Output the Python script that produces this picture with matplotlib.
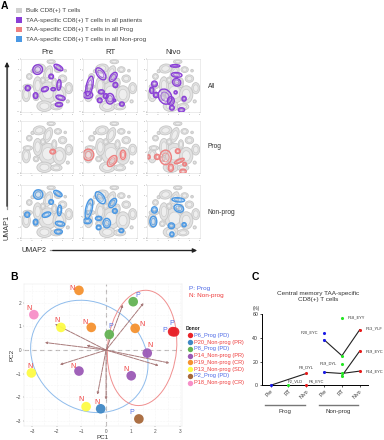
import numpy as np
import matplotlib
matplotlib.use("Agg")
import matplotlib.pyplot as plt
from matplotlib.patches import Ellipse, Rectangle

plt.rcParams['font.family'] = ['Liberation Sans', 'DejaVu Sans']

W, H = 384, 440

# panel A: clusters in umap coordinates (0-100), x, y, w, h, angle
bulk = [(35, 82, 24, 17, 10), (58, 95, 16, 8, 0), (16, 67, 11, 11, 0), (52, 73, 15, 30, -20),
        (71, 80, 14, 11, 0), (80, 63, 16, 14, 0), (92, 45, 15, 21, 0), (52, 37, 36, 40, 0),
        (32, 50, 17, 33, 0), (74, 33, 25, 33, 0), (10, 33, 16, 27, 0), (29, 27, 11, 11, 0),
        (45, 11, 29, 20, 0), (68, 10, 22, 12, 0), (90, 20, 6, 6, 0), (22, 77, 6, 6, 0),
        (64, 55, 10, 18, 0), (13, 48, 18, 9, 0), (85, 78, 5, 5, 0), (42, 60, 10, 12, 0)]

all_pre = [(32, 80, 19, 18, 30), (72, 84, 19, 9, -30), (58, 67, 9, 9, 0), (13, 45, 10, 10, 0),
           (28, 31, 9, 11, 0), (46, 43, 14, 9, 20), (62, 43, 9, 6, 0), (73, 51, 8, 20, -5),
           (76, 27, 18, 9, -15), (73, 14, 14, 8, 0)]
all_rt = [(33, 72, 14, 26, 35), (56, 66, 11, 20, -35), (60, 51, 9, 10, 0), (12, 49, 12, 38, -12),
          (9, 32, 18, 13, 0), (31, 22, 9, 9, 0), (42, 30, 9, 9, 0), (50, 25, 15, 20, 0),
          (72, 15, 9, 8, 0), (58, 22, 5, 5, 0), (34, 38, 11, 8, 0)]
all_nivo = [(14, 53, 11, 11, 0), (17, 32, 10, 10, 0), (9, 41, 8, 12, 0), (34, 29, 24, 30, 30),
            (45, 21, 13, 16, 0), (47, 8, 9, 9, 0), (56, 70, 20, 9, -5), (56, 56, 16, 14, -25),
            (70, 25, 8, 9, 0), (65, 4, 12, 8, 0), (53, 87, 18, 5, 0), (54, 37, 6, 6, 0)]
prog_pre = [(61, 41, 11, 9, 0)]
prog_rt = [(10, 35, 20, 22, 0), (54, 23, 14, 24, -35), (74, 35, 10, 18, 0)]
prog_nivo = [(3, 31, 6, 8, 0), (19, 31, 10, 10, 0), (35, 30, 22, 28, 0), (45, 10, 10, 14, 0),
             (58, 42, 9, 9, 0), (61, 23, 20, 7, 25), (71, 17, 7, 7, 0), (68, 3, 12, 9, 0)]
non_pre = [(33, 82, 18, 18, 30), (71, 84, 18, 9, -30), (58, 68, 9, 9, 0), (12, 44, 10, 10, 0),
           (28, 30, 9, 11, 0), (49, 44, 17, 9, 20), (74, 52, 8, 20, -5), (75, 27, 18, 9, -10),
           (72, 12, 15, 9, 0)]
non_rt = [(32, 76, 14, 26, 35), (55, 66, 11, 20, -35), (59, 51, 9, 9, 0), (11, 55, 12, 38, -12),
          (8, 32, 15, 10, 0), (29, 20, 9, 9, 0), (29, 37, 12, 8, 0), (44, 28, 14, 18, 0),
          (71, 14, 9, 8, 0)]
non_nivo = [(14, 53, 11, 12, 0), (12, 31, 13, 20, 0), (46, 23, 12, 11, 0), (47, 7, 8, 9, 0),
            (59, 72, 24, 8, -5), (60, 56, 19, 14, -25), (70, 25, 8, 8, 0)]

conds = ["Pre", "RT", "Nivo"]
rows = ["All", "Prog", "Non-prog"]
row_data = [[all_pre, all_rt, all_nivo], [prog_pre, prog_rt, prog_nivo], [non_pre, non_rt, non_nivo]]
row_cols = ["#8a3fd6", "#ee8080", "#4a98e4"]
legend_a = ["Bulk CD8(+) T cells", "TAA-specific CD8(+) T cells in all patients",
            "TAA-specific CD8(+) T cells in all Prog", "TAA-specific CD8(+) T cells in all Non-prog"]
legend_a_cols = ["#d0d0d0", "#8a3fd6", "#ee8080", "#4a98e4"]

# panel B
pc1 = [2.70, 2.78, -0.22, 1.10, 0.13, 1.67, 1.02, -1.10, -0.60, 1.18, -1.10, -1.83, -3.03, -0.81, 1.33, -2.93]
pc2 = [0.78, 0.77, -2.49, 2.05, 0.66, -0.13, -1.09, -0.89, 0.96, 0.92, 2.53, 0.96, -0.97, -2.40, -2.92, 1.50]
pt_donor = [0, 0, 1, 2, 2, 3, 3, 3, 4, 4, 4, 5, 5, 5, 6, 7]
pt_label = ["P", "P", "N", "P", "P", "N", "N", "N", "N", "N", "N", "N", "N", "N", "P", "N"]
load_x = [1.52, 0.68, -2.07, -2.48, -0.79, -1.87, -0.35, 0.0, 2.57, 2.13]
load_y = [1.99, 1.92, 1.10, 0.32, 0.20, -0.62, -1.89, -2.10, -0.55, -0.66]
donors = ["P6_Prog (PD)", "P20_Non-prog (PR)", "P8_Prog (PD)", "P14_Non-prog (PR)",
          "P19_Non-prog (CR)", "P13_Non-prog (SD)", "P2_Prog (PD)", "P18_Non-prog (CR)"]
donor_cols = ["#e8232a", "#3f88c5", "#63b354", "#9b59b6", "#f5922f", "#fdfb45", "#a8683a", "#f78fc8"]

# panel C
c_pos = [0, 1, 2, 3, 4, 5]
c_ticks = ["Pre", "RT", "Nivo", "Pre", "RT", "Nivo"]
lines_x = [[0, 2], [3, 4, 5], [3, 4, 5], [4, 5]]
lines_y = [[0, 10], [38.5, 25, 47], [11, 10, 12], [8, 29]]
blue_x, blue_y = [0, 3, 3, 3], [0, 44, 38.5, 11]
green_x, green_y = [1, 4, 4, 4, 4, 4], [0, 57, 25, 18, 10, 7.5]
red_x, red_y = [2, 2, 5, 5, 5], [0, 10, 47, 29, 12]
c_names = ["P8_DYL", "P2_VLD", "P6_EYC", "P20_EYC", "P18_EYY", "P13_YLF", "P19_EYC", "P14_EYC", "P19_DYL"]
c_name_x = [1.98, 1.40, 2.58, 2.17, 4.83, 5.80, 5.84, 5.84, 3.26]
c_name_y = [15.2, 3.7, 3.7, 44.8, 57, 47.9, 29, 12, 18.6]


def px_axes(fig, x0, y0, x1, y1):
    return fig.add_axes([x0 / W, 1 - y1 / H, (x1 - x0) / W, (y1 - y0) / H])


fig = plt.figure(figsize=(W / 100, H / 100), dpi=100)
bg = fig.add_axes([0, 0, 1, 1])
bg.set_xlim(0, W)
bg.set_ylim(H, 0)
bg.axis("off")

# panel A
bg.text(1, 6, "A", fontsize=7.5, fontweight="bold", va="center")
for i, lab in enumerate(legend_a):
    yy = 10.5 + i * 9.6
    bg.add_patch(Rectangle((16, yy - 2.8), 5.6, 5.6, fc=legend_a_cols[i], ec="none"))
    bg.text(26, yy, lab, fontsize=4.55, color="#444444", va="center")

col_x = [(21, 73), (83, 137), (147, 200)]
row_y = [(59, 112), (121, 173), (185, 238)]
for r, (y0, y1) in enumerate(row_y):
    for c, (x0, x1) in enumerate(col_x):
        ax = px_axes(fig, x0, y0, x1, y1)
        ax.set_xlim(0, 100)
        ax.set_ylim(0, 100)
        for b in bulk:
            ax.add_patch(Ellipse(b[:2], b[2], b[3], angle=b[4], fc="#e2e2e2", ec="#c6c6c6", lw=0.6))
            ax.add_patch(Ellipse(b[:2], b[2] * 0.6, b[3] * 0.6, angle=b[4], fc="#eeeeee", ec="#cdcdcd", lw=0.5))
        for b in row_data[r][c]:
            ax.add_patch(Ellipse(b[:2], b[2], b[3], angle=b[4], fc=row_cols[r] + "22", ec=row_cols[r], lw=1.0))
            ax.add_patch(Ellipse(b[:2], b[2] * 0.6, b[3] * 0.6, angle=b[4], fc="none", ec=row_cols[r], lw=0.7, alpha=0.7))
        ax.set_xticks([0, 20, 40, 60, 80, 100])
        ax.set_yticks([0, 20, 40, 60, 80, 100])
        ax.set_xticklabels(["-10", "-5", "0", "5", "10", "15"])
        ax.set_yticklabels(["-10", "-5", "0", "5", "10", "15"])
        ax.tick_params(length=0.8, width=0.3, pad=0.3, labelsize=1.4, colors="#777777")
        for s in ax.spines.values():
            s.set_linewidth(0.4)
            s.set_color("#dddddd")
        if r == 0:
            bg.text((x0 + x1) / 2, 52, conds[c], fontsize=5.6, color="#333333", ha="center", va="center")
    bg.text(208, [86.5, 147, 212][r], rows[r], fontsize=4.8, color="#333333", va="center")

bg.annotate("", xy=(7, 59), xytext=(7, 209),
            arrowprops=dict(arrowstyle="-|>,head_width=0.12,head_length=0.25", color="#222222", lw=0.9))
bg.plot([7, 7], [65, 209], color="#999999", lw=0.9)
bg.text(7, 227, "UMAP1", fontsize=5.2, rotation=90, color="#333333", ha="center", va="center")
bg.text(34, 250.5, "UMAP2", fontsize=5.2, color="#333333", ha="center", va="center")
bg.annotate("", xy=(200, 250.5), xytext=(50, 250.5),
            arrowprops=dict(arrowstyle="-|>,head_width=0.12,head_length=0.25", color="#222222", lw=0.9))
bg.plot([50, 194], [250.5, 250.5], color="#999999", lw=0.9)

# panel B
bg.text(10, 277, "B", fontsize=7.5, fontweight="bold", va="center")
axb = px_axes(fig, 24, 284, 182, 426)
axb.set_xlim(-3.33, 3.08)
axb.set_ylim(-3.22, 2.8)
axb.set_xticks([-3, -2, -1, 0, 1, 2, 3])
axb.set_yticks([-3, -2, -1, 0, 1, 2])
axb.set_xticks(np.arange(-2.5, 3, 1), minor=True)
axb.set_yticks(np.arange(-2.5, 3, 1), minor=True)
axb.grid(True, which="both", color="#eeeeee", lw=0.4, ls=":")
axb.tick_params(which="minor", length=0)
axb.tick_params(length=1, width=0.3, pad=0.8, labelsize=3.4, colors="#555555")
for s in axb.spines.values():
    s.set_linewidth(0.3)
    s.set_color("#e4e4e4")
axb.axhline(0, color="#b5b0b0", lw=0.8, ls=(0, (4, 3)), zorder=1)
axb.axvline(0, color="#b5b0b0", lw=0.8, ls=(0, (4, 3)), zorder=1)
axb.set_xlabel("PC1", fontsize=4.5, color="#333333", labelpad=1)
axb.set_ylabel("PC2", fontsize=4.5, color="#333333", labelpad=1)

axb.add_patch(Ellipse((-0.68, -0.27), 5.1, 4.4, angle=-45, fc="none", ec="#8fbcec", lw=0.7, zorder=2))
axb.add_patch(Ellipse((1.46, 0.09), 4.9, 2.8, angle=85, fc="none", ec="#f08f8f", lw=0.7, zorder=2))

for lx, ly in zip(load_x, load_y):
    axb.annotate("", xy=(lx, ly), xytext=(0, 0), zorder=3,
                 arrowprops=dict(arrowstyle="-|>,head_width=0.06,head_length=0.12", color="#a87a7a", lw=0.7,
                                 shrinkA=0, shrinkB=0, ls=(0, (5, 1))))

axb.scatter(pc1, pc2, s=48, c=[donor_cols[d] for d in pt_donor], lw=0, zorder=4, alpha=0.95)
lab_off = [(-5.8, 0.5), (-1.9, 6), (-2.9, 4.8), (3.1, 4.6), (1.2, 5.8), (2.2, 5.3), (-3.6, 4.3), (-4.1, 3.4),
           (-4.6, 3.8), (4.8, 2.6), (-5.3, 1.7), (-3.1, 4.8), (-1, 4.8), (-3.6, 5), (-5, 4.3), (-3.6, 4.6)]
for x, y, lab, off in zip(pc1, pc2, pt_label, lab_off):
    col = "#5570e8" if lab == "P" else "#ee3b3b"
    axb.annotate(lab, (x, y), xytext=off, textcoords="offset points",
                 fontsize=5, color=col, ha="center", va="center", zorder=5)

bg.text(189, 288.5, "P: Prog", fontsize=4.6, color="#4a66e6", va="center")
bg.text(189, 296, "N: Non-prog", fontsize=4.6, color="#ee3b3b", va="center")
bg.text(186, 328, "Donor", fontsize=3.5, fontweight="bold", color="#222222", va="center")
for i, d in enumerate(donors):
    yy = 335.3 + i * 6.75
    bg.scatter([189.5], [yy], s=15, color=donor_cols[i], lw=0)
    bg.text(194, yy, d, fontsize=4.1, va="center", color="#4a66e6" if "_Prog" in d else "#ee3b3b")

# panel C
bg.text(252, 277, "C", fontsize=7.5, fontweight="bold", va="center")
axc = px_axes(fig, 261.7, 314.3, 368.3, 385.3)
axc.set_xlim(-0.5, 5.48)
axc.set_ylim(0, 60)
for lx, ly in zip(lines_x, lines_y):
    axc.plot(lx, ly, color="#222222", lw=0.8, zorder=2)
axc.scatter(blue_x, blue_y, s=5, color="#1a1ae6", lw=0, zorder=3, clip_on=False)
axc.scatter(green_x, green_y, s=5, color="#22e622", lw=0, zorder=3, clip_on=False)
axc.scatter(red_x, red_y, s=5, color="#e61a1a", lw=0, zorder=3, clip_on=False)
for name, x, y in zip(c_names, c_name_x, c_name_y):
    axc.text(x, y, name, fontsize=2.9, color="#333333", ha="center", va="center", clip_on=False)
axc.set_xticks(c_pos)
axc.set_xticklabels(c_ticks, rotation=45, ha="right", rotation_mode="anchor")
axc.set_yticks([0, 20, 40, 60])
axc.tick_params(length=1.5, width=0.6, pad=1, labelsize=3.8, colors="#333333")
axc.patch.set_alpha(0)
axc.spines["top"].set_visible(False)
axc.spines["right"].set_visible(False)
axc.spines["left"].set_linewidth(0.7)
axc.spines["bottom"].set_linewidth(0.7)
bg.text(318, 296.5, "Central memory TAA-specific\nCD8(+) T cells", fontsize=4.6, color="#333333",
        ha="center", va="center", linespacing=1.15)
bg.text(253, 308.5, "(%)", fontsize=3.4, color="#333333", va="center")
bg.plot([264.5, 304.5], [404.7, 404.7], color="#777777", lw=1.0)
bg.plot([318.5, 357.5], [404.7, 404.7], color="#777777", lw=1.0)
bg.text(285, 411, "Prog", fontsize=4.4, color="#333333", ha="center", va="center")
bg.text(338, 411, "Non-prog", fontsize=4.4, color="#333333", ha="center", va="center")

fig.savefig("out.png", dpi=100)
